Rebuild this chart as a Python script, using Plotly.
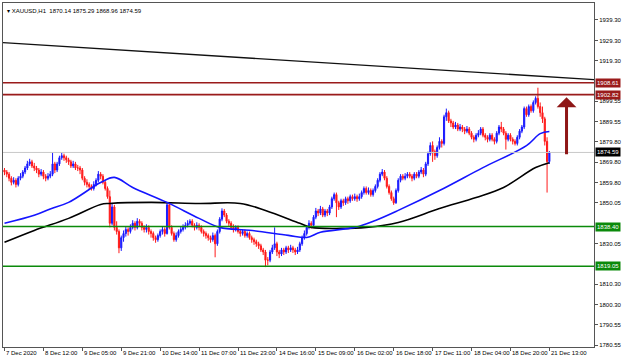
import plotly.graph_objects as go

# ---------------- data ----------------
first_open = 1866.0
closes = [
    1865, 1864, 1862, 1860, 1861, 1859, 1862, 1863, 1865, 1867,
    1869, 1870, 1868, 1867, 1866, 1864, 1865, 1863, 1862, 1863,
    1864, 1869, 1866, 1869, 1872, 1873, 1872, 1871, 1870, 1868,
    1869, 1867, 1867, 1866, 1862, 1860, 1859, 1858, 1857, 1859,
    1861, 1864, 1863, 1860, 1857, 1853, 1840, 1848, 1838, 1836,
    1828, 1833, 1835, 1837, 1836, 1838, 1840, 1838, 1841, 1840,
    1838, 1837, 1838, 1836, 1835, 1833, 1832, 1834, 1836, 1837,
    1835, 1849, 1838, 1835, 1832, 1834, 1836, 1837, 1838, 1839,
    1840, 1841, 1839, 1838, 1839, 1838, 1836, 1835, 1834, 1833,
    1832, 1834, 1830, 1836, 1842, 1846, 1844, 1841, 1840, 1838,
    1837, 1838, 1836, 1835, 1836, 1834, 1835, 1833, 1832, 1831,
    1830, 1829, 1827, 1826, 1822, 1822, 1826, 1828, 1830, 1826,
    1825, 1827, 1826, 1828, 1827, 1828, 1827, 1826, 1827, 1830,
    1833, 1835, 1838, 1840, 1839, 1843, 1846, 1845, 1847, 1844,
    1846, 1845, 1848, 1852, 1854, 1850, 1848, 1851, 1850, 1852,
    1851, 1853, 1852, 1853, 1852, 1853, 1855, 1857, 1855, 1856,
    1854, 1856, 1858, 1861, 1864, 1865, 1862, 1858, 1855, 1852,
    1850, 1856, 1861, 1863, 1862, 1863, 1864, 1863, 1862, 1864,
    1863, 1865, 1866, 1864, 1869, 1874, 1878, 1875, 1873, 1877,
    1880, 1879, 1892, 1894, 1890, 1889, 1887, 1888, 1886, 1887,
    1886, 1885, 1886, 1884, 1882, 1881, 1883, 1884, 1886, 1883,
    1882, 1881, 1883, 1881, 1880, 1884, 1887, 1886, 1884, 1881,
    1883, 1881, 1880, 1879, 1882, 1885, 1887, 1896, 1893, 1897,
    1895, 1899, 1901, 1897, 1894, 1891, 1880, 1870.14, 1874.59,
]
highs = [
    1867, 1866, 1865, 1863, 1862.5, 1862, 1863, 1864.5, 1866, 1868,
    1870.5, 1871.5, 1871, 1869.5, 1868, 1867, 1866.5, 1866, 1864, 1864.5,
    1865.5, 1874.7, 1870, 1870, 1873, 1874.5, 1874, 1873, 1872, 1871,
    1870.5, 1870, 1868.5, 1868, 1867, 1863, 1861.5, 1860, 1859, 1860.5,
    1862, 1865.5, 1865, 1864, 1861, 1858, 1856, 1850, 1849, 1841,
    1837, 1834, 1836.5, 1838.5, 1838, 1839.5, 1841.5, 1841, 1842.5, 1842,
    1841, 1839, 1839.5, 1839, 1837, 1836, 1834, 1835, 1837, 1838.5,
    1838, 1850, 1850, 1839, 1836, 1835.5, 1837, 1838.5, 1839.5, 1840.5,
    1841.5, 1842, 1842, 1840, 1840.5, 1840, 1839, 1837, 1836, 1835,
    1834, 1835.5, 1835, 1837, 1843, 1847.3, 1847, 1845, 1842, 1841,
    1839.5, 1839, 1839, 1837, 1837, 1837, 1836, 1836, 1834, 1833,
    1832, 1831, 1830, 1828, 1827, 1823.5, 1827, 1829.5, 1838, 1831,
    1827, 1828, 1828, 1829, 1829, 1829.5, 1829, 1828, 1828.5, 1831,
    1834, 1836.5, 1839, 1841.5, 1841, 1844, 1847.5, 1847, 1848.5, 1848,
    1847, 1847, 1849, 1853, 1855, 1855, 1851, 1852, 1852, 1853,
    1853, 1854, 1854, 1854.5, 1854, 1854.5, 1856, 1858, 1858, 1857.5,
    1857, 1857, 1859, 1862, 1865, 1866.5, 1866, 1863, 1859, 1856,
    1853, 1857, 1862, 1864, 1864, 1864.5, 1865, 1865, 1864, 1865,
    1865, 1866, 1867.5, 1867, 1870, 1875, 1879.5, 1880, 1876, 1878,
    1882, 1881, 1893, 1896, 1895, 1891, 1890, 1889.5, 1889, 1888.5,
    1888, 1887, 1887.5, 1887, 1885, 1883, 1884, 1885.5, 1887, 1887,
    1884, 1883, 1884, 1884, 1882, 1885, 1888, 1889.5, 1887, 1885,
    1884, 1884, 1882, 1881, 1883, 1886, 1888, 1897, 1897, 1898,
    1898, 1900, 1902, 1906.2, 1899, 1897, 1892, 1882, 1875.29,
]
lows = [
    1863.5, 1862.5, 1860.5, 1858.5, 1859, 1857.5, 1858, 1861, 1862, 1864,
    1866, 1868, 1867, 1865.5, 1864.5, 1862.5, 1863, 1861.5, 1860.5, 1861,
    1862, 1863, 1864.5, 1865, 1868, 1871, 1870.5, 1869.5, 1868.5, 1867,
    1867, 1866, 1865.5, 1864, 1861, 1858.5, 1857.5, 1856.5, 1856, 1856,
    1858, 1860, 1861.5, 1859, 1856, 1852, 1838, 1839, 1836.5, 1834.5,
    1825.4, 1826.5, 1831, 1833.5, 1834, 1835, 1837, 1836.5, 1837, 1838.5,
    1836.5, 1835.5, 1835.5, 1834.5, 1833, 1831.5, 1830.5, 1831, 1833, 1834.5,
    1833.5, 1834.5, 1837, 1834, 1831, 1831, 1833, 1835, 1836, 1837,
    1838, 1839, 1838, 1836.5, 1837, 1836.5, 1835, 1833.5, 1832.5, 1831.5,
    1830.5, 1831, 1823.4, 1829, 1835, 1841, 1843, 1840, 1838.5, 1837,
    1835.5, 1836, 1835, 1833.5, 1834, 1833, 1833, 1832, 1830.5, 1829.5,
    1828.5, 1827.5, 1826, 1824.5, 1818.6, 1819.5, 1821, 1825, 1827, 1824,
    1823, 1824, 1824.5, 1825, 1825.5, 1826, 1825.5, 1824.5, 1825, 1826,
    1829, 1832, 1834, 1837, 1837.5, 1838, 1842, 1843.5, 1844, 1843,
    1843, 1843.5, 1844, 1847, 1851, 1843, 1846.5, 1847, 1848.5, 1849,
    1849.5, 1850, 1851, 1851, 1850.5, 1851, 1852, 1854, 1854, 1854,
    1853, 1853, 1855, 1857, 1860, 1863, 1861, 1857, 1854, 1851,
    1849, 1849.5, 1855, 1860, 1861, 1861, 1862, 1862, 1860.5, 1861,
    1862, 1862, 1864, 1862.5, 1863, 1868, 1873, 1870, 1871, 1872,
    1876, 1877, 1878, 1890, 1889, 1887, 1886, 1886, 1885, 1885,
    1884.5, 1883.5, 1884, 1883, 1881, 1879.5, 1880, 1882, 1883, 1882,
    1880.5, 1879.5, 1880, 1880, 1878.5, 1879, 1883, 1884.5, 1883, 1876,
    1880, 1880, 1878.5, 1878, 1878, 1881, 1884, 1886, 1892, 1892,
    1894, 1894, 1898, 1896, 1892, 1889, 1878, 1855, 1868.96,
]
opens = [first_open] + closes[:-1]
bars = list(range(len(closes)))

# moving averages
ma_fast_bars = [0, 13, 20, 28, 42, 48, 56, 71, 85, 94, 107, 124, 132, 138, 153, 162, 172, 190, 209, 228, 234, 238]
ma_fast_vals = [1840.0, 1843.9, 1847.0, 1850.2, 1859.9, 1862.4, 1857.5, 1850.2, 1842.4, 1838.0, 1836.6,
                1834.1, 1833.1, 1835.6, 1838.0, 1841.4, 1846.3, 1856.0, 1867.2, 1877.9, 1883.8, 1884.8]
ma_slow_bars = [0, 13, 28, 42, 46, 64, 85, 103, 114, 129, 134, 147, 158, 172, 190, 206, 218, 232, 238]
ma_slow_vals = [1830.7, 1836.5, 1842.4, 1849.2, 1849.7, 1850.2, 1849.7, 1849.7, 1846.3, 1840.0, 1838.0,
                1837.5, 1838.0, 1840.4, 1847.2, 1852.6, 1857.5, 1867.2, 1869.6]

trend_bars = [-1, 258]
trend_vals = [1928.2, 1910.1]

resistance_levels = [1908.61, 1902.82]
support_levels = [1838.40, 1819.05]
last_price = 1874.59

arrow_bar = 245.5
arrow_from = 1873.0
arrow_to = 1901.5

y_tick_vals = [1939.30, 1929.30, 1919.30, 1899.55, 1889.55, 1879.80, 1869.80, 1859.80,
               1850.05, 1830.05, 1810.30, 1800.30, 1790.55, 1780.55]
x_tick_bars = [0, 17, 34, 51, 68, 85, 102, 119, 136, 153, 170, 187, 204, 221, 238]
x_tick_labels = ["7 Dec 2020", "8 Dec 12:00", "9 Dec 05:00", "9 Dec 21:00", "10 Dec 14:00",
                 "11 Dec 07:00", "11 Dec 23:00", "14 Dec 16:00", "15 Dec 09:00", "16 Dec 02:00",
                 "16 Dec 18:00", "17 Dec 11:00", "18 Dec 04:00", "18 Dec 20:00", "21 Dec 13:00"]
header = "XAUUSD,H1  1870.14 1875.29 1868.96 1874.59"

# ---------------- figure ----------------
FONT = "Liberation Sans"
RED_LVL = "#9A1B1B"
GREEN_LVL = "#0B8A0B"

fig = go.Figure()

# trend line
fig.add_trace(go.Scatter(x=trend_bars, y=trend_vals, mode="lines",
                         line=dict(color="#111111", width=1.3), hoverinfo="skip"))

# level lines
for v in resistance_levels:
    fig.add_shape(type="line", xref="paper", x0=0, x1=1, yref="y", y0=v, y1=v,
                  line=dict(color=RED_LVL, width=1.6))
for v in support_levels:
    fig.add_shape(type="line", xref="paper", x0=0, x1=1, yref="y", y0=v, y1=v,
                  line=dict(color=GREEN_LVL, width=1.6))
fig.add_shape(type="line", xref="paper", x0=0, x1=1, yref="y", y0=last_price, y1=last_price,
              line=dict(color="#C8C8C8", width=1))

# moving averages
fig.add_trace(go.Scatter(x=ma_slow_bars, y=ma_slow_vals, mode="lines", line_shape="spline",
                         line=dict(color="#000000", width=1.6), hoverinfo="skip"))
fig.add_trace(go.Scatter(x=ma_fast_bars, y=ma_fast_vals, mode="lines", line_shape="spline",
                         line=dict(color="#1515FF", width=1.6), hoverinfo="skip"))

# candles
fig.add_trace(go.Candlestick(
    x=bars, open=opens, high=highs, low=lows, close=closes,
    increasing=dict(line=dict(color="#1a1aff", width=1), fillcolor="#1a1aff"),
    decreasing=dict(line=dict(color="#ff1a1a", width=1), fillcolor="#ff1a1a"),
    whiskerwidth=0, hoverinfo="skip",
))

annotations = []
# header
annotations.append(dict(xref="paper", yref="paper", x=0, y=1, xanchor="left", yanchor="top",
                        xshift=2, yshift=-3, showarrow=False,
                        text="\u25BE " + header, font=dict(family=FONT, size=6, color="#000")))
# x labels
for b, t in zip(x_tick_bars, x_tick_labels):
    annotations.append(dict(xref="x", yref="paper", x=b, y=0, xanchor="left", yanchor="top",
                            xshift=0, yshift=-1, showarrow=False, text=t,
                            font=dict(family=FONT, size=6, color="#000")))
# right side price boxes
for v in resistance_levels:
    annotations.append(dict(xref="paper", yref="y", x=1, y=v, xanchor="left", yanchor="middle",
                            xshift=1, showarrow=False, text=f"{v:.2f}", bgcolor=RED_LVL,
                            borderpad=1, font=dict(family=FONT, size=6, color="white")))
for v in support_levels:
    annotations.append(dict(xref="paper", yref="y", x=1, y=v, xanchor="left", yanchor="middle",
                            xshift=1, showarrow=False, text=f"{v:.2f}", bgcolor=GREEN_LVL,
                            borderpad=1, font=dict(family=FONT, size=6, color="white")))
annotations.append(dict(xref="paper", yref="y", x=1, y=last_price, xanchor="left", yanchor="middle",
                        xshift=1, showarrow=False, text=f"{last_price:.2f}", bgcolor="#000000",
                        borderpad=1, font=dict(family=FONT, size=6, color="white")))
# arrow
annotations.append(dict(xref="x", yref="y", x=arrow_bar, y=arrow_to, axref="x", ayref="y",
                        ax=arrow_bar, ay=arrow_from, showarrow=True, text="",
                        arrowhead=1, arrowsize=1.1, arrowwidth=3, arrowcolor="#8E1616"))

fig.update_layout(
    width=624, height=361,
    margin=dict(l=2, r=26, t=2, b=14),
    paper_bgcolor="white", plot_bgcolor="white",
    showlegend=False,
    annotations=annotations,
    xaxis=dict(range=[-0.65, 257.5], rangeslider=dict(visible=False), showgrid=False, zeroline=False,
               tickmode="array", tickvals=x_tick_bars, ticktext=[""] * len(x_tick_bars),
               ticks="outside", ticklen=3, tickcolor="#555", showline=True, mirror=True,
               linecolor="#555", linewidth=1),
    yaxis=dict(range=[1779.6, 1947.56], side="right", showgrid=False, zeroline=False,
               tickmode="array", tickvals=y_tick_vals, ticktext=[f"{v:.2f}" for v in y_tick_vals],
               ticks="outside", ticklen=3, tickcolor="#555",
               tickfont=dict(family=FONT, size=6, color="#000"),
               showline=True, mirror=True, linecolor="#555", linewidth=1),
)

fig.write_html("out.html", config={"displayModeBar": False},
               post_script="document.body.style.margin='0px';document.body.style.overflow='hidden';")
